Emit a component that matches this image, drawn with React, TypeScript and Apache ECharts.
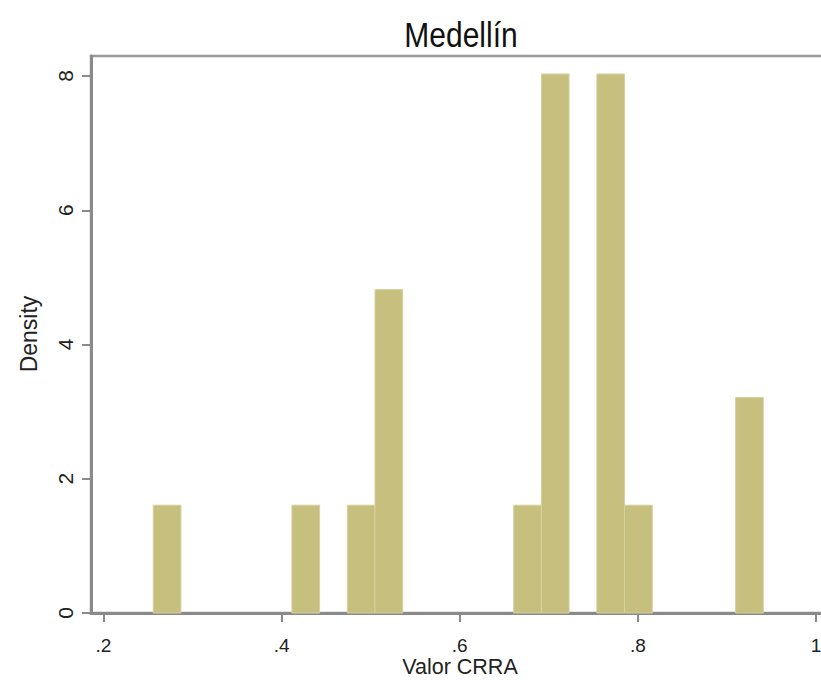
import React, { useEffect, useRef } from "react";
import * as echarts from "echarts";

const chartTitle = "Medellín";
const xAxisName = "Valor CRRA";
const yAxisName = "Density";
const binWidth = 0.0311;
const binLeft = [0.2559, 0.4116, 0.4738, 0.5049, 0.6606, 0.6917, 0.754, 0.7851, 0.9098];
const density = [1.606, 1.606, 1.606, 4.818, 1.606, 8.03, 8.03, 1.606, 3.212];
const xTicks = [0.2, 0.4, 0.6, 0.8, 1];
const xTickLabels = [".2", ".4", ".6", ".8", "1"];
const yTicks = [0, 2, 4, 6, 8];
const yTickLabels = ["0", "2", "4", "6", "8"];

const FONT = "'Liberation Sans', Arial, sans-serif";

export default function App() {
  const ref = useRef<HTMLDivElement>(null);
  useEffect(() => {
    if (!ref.current) return;
    const chart = echarts.init(ref.current, undefined, { renderer: "svg" });
    const data = binLeft.map((l, i) => [l, l + binWidth, density[i]]);
    chart.setOption({
      animation: false,
      backgroundColor: "#ffffff",
      grid: {
        left: 91,
        top: 56,
        right: -10,
        bottom: 67,
        show: true,
        borderColor: "#9a9a9a",
        borderWidth: 2.5,
        containLabel: false,
        outerBoundsMode: "none",
      },
      graphic: [
        {
          type: "text",
          x: 461,
          y: 35,
          scaleY: 1.18,
          style: {
            text: chartTitle,
            fontFamily: FONT,
            fontSize: 30,
            fill: "#111111",
            textAlign: "center",
            textVerticalAlign: "middle",
          },
        },
        {
          type: "text",
          x: 460,
          y: 667,
          style: {
            text: xAxisName,
            fontFamily: FONT,
            fontSize: 21.5,
            fill: "#222222",
            textAlign: "center",
            textVerticalAlign: "middle",
          },
        },
        {
          type: "text",
          x: 29,
          y: 334,
          rotation: Math.PI / 2,
          style: {
            text: yAxisName,
            fontFamily: FONT,
            fontSize: 23,
            fill: "#222222",
            textAlign: "center",
            textVerticalAlign: "middle",
          },
        },
      ],
      xAxis: {
        type: "value",
        min: 0.186,
        max: 1.0169,
        axisLine: { show: true, onZero: false, lineStyle: { color: "#8a8a8a", width: 3 } },
        axisTick: {
          show: true,
          length: 9,
          lineStyle: { color: "#8a8a8a", width: 2 },
          customValues: xTicks,
        },
        axisLabel: {
          customValues: xTicks,
          formatter: (v: number) => {
            const i = xTicks.findIndex((t) => Math.abs(t - v) < 1e-6);
            return i >= 0 ? xTickLabels[i] : "";
          },
          margin: 23,
          fontFamily: FONT,
          fontSize: 19,
          color: "#222222",
        },
        splitLine: { show: false },
      },
      yAxis: {
        type: "value",
        min: 0,
        max: 8.298,
        axisLine: { show: true, lineStyle: { color: "#8a8a8a", width: 3 } },
        axisTick: {
          show: true,
          length: 9,
          lineStyle: { color: "#8a8a8a", width: 2 },
          customValues: yTicks,
        },
        axisLabel: {
          customValues: yTicks,
          rotate: 90,
          formatter: (v: number) => {
            const i = yTicks.findIndex((t) => Math.abs(t - v) < 1e-6);
            return i >= 0 ? yTickLabels[i] : "";
          },
          margin: 15,
          fontFamily: FONT,
          fontSize: 21,
          color: "#222222",
        },
        splitLine: { show: false },
      },
      series: [
        {
          type: "custom",
          data,
          encode: { x: [0, 1], y: 2 },
          renderItem: (params: any, api: any) => {
            const x0 = api.value(0);
            const x1 = api.value(1);
            const y = api.value(2);
            const p0 = api.coord([x0, y]);
            const p1 = api.coord([x1, 0]);
            return {
              type: "rect",
              shape: { x: p0[0], y: p0[1], width: p1[0] - p0[0], height: p1[1] - p0[1] },
              style: { fill: "#c6bf7e", stroke: "#d6d0a2", lineWidth: 1 },
            };
          },
        },
      ],
    });
    return () => chart.dispose();
  }, []);
  return (
    <div
      ref={ref}
      style={{ position: "fixed", left: 0, top: 0, width: 821, height: 680, background: "#fff" }}
    />
  );
}
